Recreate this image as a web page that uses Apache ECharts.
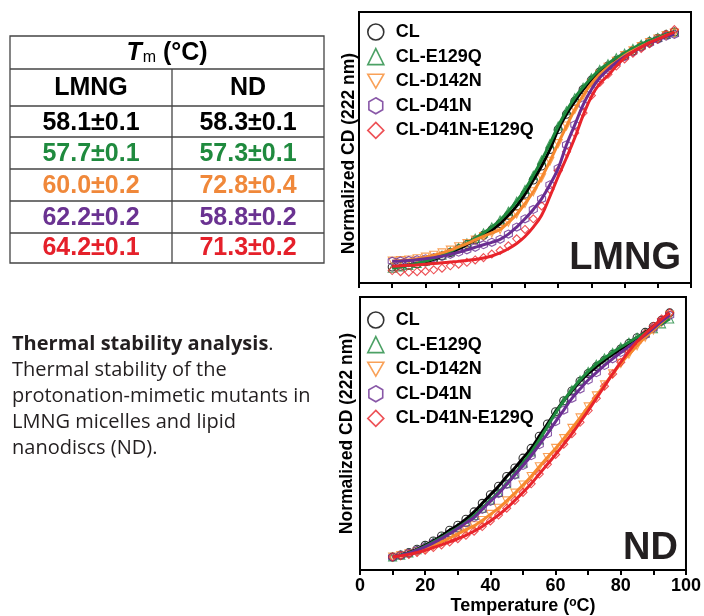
<!DOCTYPE html>
<html><head><meta charset="utf-8">
<script src="https://cdn.jsdelivr.net/npm/echarts@6/dist/echarts.min.js"></script>
<style>html,body{margin:0;padding:0;background:#fff}#c{width:704px;height:616px}</style>
</head><body><div id="c"></div>
<script>
// ---------- DATA ----------
const temps = [10,12.5,15,17.5,20,22.5,25,27.5,30,32.5,35,37.5,40,42.5,45,47.5,50,52.5,55,57.5,60,62.5,65,67.5,70,72.5,75,77.5,80,82.5,85,87.5,90,92.5,95];
const seriesNames = ['CL','CL-E129Q','CL-D142N','CL-D41N','CL-D41N-E129Q'];
const xTickValues = [0,20,40,60,80,100];

// LMNG micelles: normalized CD (222 nm)
const lmngCL     = [0.00,0.003,0.008,0.014,0.022,0.033,0.047,0.062,0.078,0.096,0.115,0.135,0.158,0.185,0.22,0.26,0.31,0.37,0.43,0.50,0.585,0.65,0.705,0.755,0.795,0.83,0.855,0.88,0.90,0.92,0.94,0.958,0.973,0.988,1.0];
const lmngE129Q  = [-0.005,0.0,0.007,0.015,0.025,0.036,0.05,0.066,0.083,0.102,0.122,0.145,0.17,0.2,0.237,0.28,0.33,0.39,0.455,0.525,0.6,0.665,0.72,0.765,0.805,0.84,0.865,0.89,0.91,0.93,0.948,0.963,0.977,0.99,1.0];
const lmngD142N  = [0.025,0.027,0.03,0.035,0.042,0.05,0.06,0.072,0.086,0.1,0.115,0.13,0.145,0.16,0.19,0.225,0.27,0.32,0.38,0.45,0.525,0.6,0.67,0.73,0.78,0.82,0.85,0.875,0.9,0.92,0.938,0.955,0.97,0.985,0.995];
const lmngD41N   = [0.025,0.026,0.028,0.031,0.035,0.04,0.046,0.054,0.063,0.073,0.084,0.095,0.105,0.118,0.14,0.17,0.205,0.245,0.29,0.35,0.42,0.52,0.605,0.69,0.755,0.805,0.84,0.87,0.895,0.915,0.935,0.952,0.968,0.982,0.99];
const lmngD41NE129QFit = [0.003,0.005,0.007,0.009,0.012,0.015,0.018,0.021,0.024,0.028,0.032,0.038,0.047,0.06,0.078,0.1,0.13,0.17,0.22,0.3,0.385,0.465,0.55,0.645,0.725,0.78,0.815,0.855,0.89,0.915,0.935,0.955,0.97,0.985,1.0];
const lmngD41NE129QPts = [-0.015,-0.02,-0.022,-0.02,-0.018,-0.012,-0.005,0.005,0.012,0.02,0.03,0.04,0.055,0.07,0.09,0.12,0.16,0.205,0.26,0.33,0.41,0.49,0.57,0.655,0.73,0.785,0.82,0.855,0.885,0.91,0.93,0.95,0.97,0.99,1.01];

// Lipid nanodiscs (ND)
const ndCL       = [0.0,0.008,0.018,0.032,0.048,0.066,0.086,0.11,0.13,0.155,0.185,0.22,0.255,0.29,0.33,0.365,0.405,0.445,0.495,0.545,0.595,0.64,0.68,0.72,0.752,0.78,0.806,0.83,0.852,0.875,0.898,0.92,0.944,0.97,1.0];
const ndE129Q    = [0.0,0.008,0.017,0.03,0.045,0.062,0.08,0.1,0.12,0.143,0.17,0.2,0.233,0.265,0.3,0.34,0.385,0.43,0.48,0.535,0.59,0.64,0.685,0.725,0.76,0.79,0.815,0.838,0.86,0.88,0.9,0.918,0.935,0.955,0.975];
const ndD142N    = [0.0,0.006,0.013,0.022,0.033,0.046,0.062,0.078,0.095,0.112,0.128,0.15,0.175,0.2,0.23,0.262,0.295,0.33,0.37,0.408,0.445,0.485,0.527,0.57,0.615,0.66,0.705,0.75,0.793,0.83,0.865,0.9,0.93,0.96,0.99];
const ndD41N     = [0.0,0.007,0.016,0.028,0.042,0.058,0.076,0.096,0.117,0.14,0.162,0.195,0.228,0.26,0.298,0.336,0.375,0.415,0.46,0.505,0.555,0.602,0.65,0.688,0.725,0.755,0.785,0.812,0.838,0.862,0.885,0.91,0.937,0.965,0.99];
const ndD41NE129Q = [0.0,0.005,0.011,0.019,0.028,0.039,0.05,0.062,0.075,0.089,0.106,0.125,0.148,0.172,0.2,0.232,0.265,0.3,0.34,0.38,0.42,0.462,0.505,0.552,0.6,0.65,0.7,0.75,0.798,0.843,0.882,0.915,0.945,0.975,1.0];

// Table of Tm values
const tableColumns = ['LMNG','ND'];
const tmLMNG = ['58.1±0.1','57.7±0.1','60.0±0.2','62.2±0.2','64.2±0.1'];
const tmND   = ['58.3±0.1','57.3±0.1','72.8±0.4','58.8±0.2','71.3±0.2'];

const captionBold = 'Thermal stability analysis';
const captionLines = ['Thermal stability of the','protonation-mimetic mutants in','LMNG micelles and lipid','nanodiscs (ND).'];
const panelLabels = ['LMNG','ND'];

// ---------- STYLE ----------
const colors = ['#000000','#1f8a3e','#f7892e','#6a2d91','#e8242b'];
const tableColors = ['#000000','#1f8a3e','#f0883a','#6a3291','#e5202a'];
const symbols = [
  'circle',
  'triangle',
  'path://M0,0 L10,0 L5,8.66 Z',
  'path://M5,0 L9.33,2.5 L9.33,7.5 L5,10 L0.67,7.5 L0.67,2.5 Z',
  'diamond'
];
const FONT = '"Liberation Sans", Arial, sans-serif';
const CAPFONT = '"Open Sans", "Noto Sans", sans-serif';

const pts = (ys) => temps.map((t, i) => [t, ys[i]]);
const panels = [
  { pts: [lmngCL, lmngE129Q, lmngD142N, lmngD41N, lmngD41NE129QPts],
    fit: [lmngCL, lmngE129Q, lmngD142N, lmngD41N, lmngD41NE129QFit] },
  { pts: [ndCL, ndE129Q, ndD142N, ndD41N, ndD41NE129Q],
    fit: [ndCL, ndE129Q, ndD142N, ndD41N, ndD41NE129Q] }
];

const series = [];
panels.forEach((p, pi) => {
  p.pts.forEach((arr, si) => {
    series.push({
      name: seriesNames[si], type: 'scatter', xAxisIndex: pi, yAxisIndex: pi,
      data: pts(arr), symbol: symbols[si], symbolSize: 8,
      itemStyle: { color: 'rgba(0,0,0,0)', borderColor: colors[si], borderWidth: 1.1 },
      z: 2, silent: true
    });
  });
  p.fit.forEach((arr, si) => {
    series.push({
      name: seriesNames[si] + ' fit', type: 'line', xAxisIndex: pi, yAxisIndex: pi,
      data: pts(arr), smooth: 0.4, showSymbol: false,
      lineStyle: { color: colors[si], width: 3 }, z: 3, silent: true
    });
  });
});

const legendData = seriesNames.map((n, i) => ({
  name: n, icon: symbols[i],
  itemStyle: { color: 'rgba(0,0,0,0)', borderColor: colors[i], borderWidth: 1.6 }
}));
const mkLegend = (top) => ({
  orient: 'vertical', left: 362, top: top, data: legendData,
  itemWidth: 16, itemHeight: 16, itemGap: 6.6, selectedMode: false,
  textStyle: { fontFamily: FONT, fontWeight: 'bold', fontSize: 18, color: '#000', lineHeight: 18, padding: [0, 0, 0, 7] }
});

const axisCommonX = (gi, showLabels) => ({
  type: 'value', gridIndex: gi, min: 0, max: 100, interval: 10,
  axisLine: { show: true, onZero: false, lineStyle: { color: '#000', width: 2 } },
  axisTick: { show: true, inside: false, length: 5, lineStyle: { color: '#000', width: 2 } },
  splitLine: { show: false },
  axisLabel: {
    show: showLabels, margin: 7, color: '#000', fontFamily: FONT, fontWeight: 'bold', fontSize: 18,
    formatter: (v) => xTickValues.indexOf(v) >= 0 ? String(v) : ''
  }
});
const axisCommonY = (gi, min, max, gap, pad) => ({
  type: 'value', gridIndex: gi, min: min, max: max,
  axisLine: { show: true, onZero: false, lineStyle: { color: '#000', width: 2 } },
  axisTick: { show: false }, axisLabel: { show: false }, splitLine: { show: false },
  name: 'Normalized CD (222 nm)', nameLocation: 'middle', nameGap: gap,
  nameTextStyle: { fontFamily: FONT, fontWeight: 'bold', fontSize: 17.5, color: '#000', padding: pad }
});

// ---------- TABLE + TEXT (graphic) ----------
const g = [];
const tL = 10, tR = 324, tT = 36, tB = 263, tMid = 172;
const hLines = [69, 106, 137, 169, 201, 233];
g.push({ type: 'rect', shape: { x: tL, y: tT, width: tR - tL, height: tB - tT },
  style: { fill: 'none', stroke: '#444', lineWidth: 1.3 } });
hLines.forEach(y => g.push({ type: 'line', shape: { x1: tL, y1: y, x2: tR, y2: y },
  style: { stroke: '#444', lineWidth: 1.3 } }));
g.push({ type: 'line', shape: { x1: tMid, y1: 69, x2: tMid, y2: tB },
  style: { stroke: '#444', lineWidth: 1.3 } });
g.push({ type: 'text', x: (tL + tR) / 2, y: 53,
  style: { text: '{t|T}{m|m}{n| (°C)}', textAlign: 'center', textVerticalAlign: 'middle',
    rich: {
      t: { fontFamily: FONT, fontWeight: 'bold', fontStyle: 'italic', fontSize: 25, fill: '#000' },
      m: { fontFamily: FONT, fontSize: 16, fill: '#000', verticalAlign: 'bottom', padding: [9, 0, 0, 1] },
      n: { fontFamily: FONT, fontWeight: 'bold', fontSize: 25, fill: '#000' }
    } } });
const colCenters = [(tL + tMid) / 2, (tMid + tR) / 2];
tableColumns.forEach((c, i) => g.push({ type: 'text', x: colCenters[i], y: 88,
  style: { text: c, textAlign: 'center', textVerticalAlign: 'middle', fontFamily: FONT,
    fontWeight: 'bold', fontSize: 25, fill: '#000' } }));
const rowCenters = [123, 154, 186, 218, 248.5];
[tmLMNG, tmND].forEach((col, ci) => col.forEach((txt, ri) => g.push({ type: 'text',
  x: colCenters[ci], y: rowCenters[ri],
  style: { text: txt, textAlign: 'center', textVerticalAlign: 'middle', fontFamily: FONT,
    fontWeight: 'bold', fontSize: 25, fill: tableColors[ri] } })));
// caption
g.push({ type: 'text', x: 12, y: 331,
  style: { text: '{b|' + captionBold + '}{r|.}\n' + captionLines.map(l => '{r|' + l + '}').join('\n'),
    textAlign: 'left', textVerticalAlign: 'top',
    rich: {
      b: { fontFamily: CAPFONT, fontWeight: 'bold', fontSize: 20, fill: '#231f20', lineHeight: 26 },
      r: { fontFamily: CAPFONT, fontSize: 20, fill: '#231f20', lineHeight: 26 }
    } } });
// panel labels
g.push({ type: 'text', x: 681, y: 259, z: 10,
  style: { text: panelLabels[0], textAlign: 'right', textVerticalAlign: 'middle', fontFamily: FONT,
    fontWeight: 'bold', fontSize: 38, fill: '#231f20' } });
g.push({ type: 'text', x: 678, y: 549, z: 10,
  style: { text: panelLabels[1], textAlign: 'right', textVerticalAlign: 'middle', fontFamily: FONT,
    fontWeight: 'bold', fontSize: 38, fill: '#231f20' } });

const option = {
  animation: false,
  backgroundColor: '#fff',
  grid: [
    { left: 359, top: 12, width: 332, height: 271, show: true, borderColor: '#000', borderWidth: 2, containLabel: false },
    { left: 360, top: 297, width: 330, height: 276, show: true, borderColor: '#000', borderWidth: 2, containLabel: false }
  ],
  xAxis: [
    axisCommonX(0, false),
    Object.assign(axisCommonX(1, true), {
      name: 'Temperature ({s|o}C)', nameLocation: 'middle', nameGap: 27,
      nameTextStyle: { fontFamily: FONT, fontWeight: 'bold', fontSize: 18, color: '#000',
        rich: { s: { fontFamily: FONT, fontWeight: 'bold', fontSize: 12, color: '#000', verticalAlign: 'top', lineHeight: 13 } } }
    })
  ],
  yAxis: [ axisCommonY(0, -0.068, 1.085, 1, [0, 12, 0, 0]), axisCommonY(1, -0.053, 1.065, 4, [0, 0, 0, 0]) ],
  legend: [ mkLegend(18), mkLegend(306) ],
  series: series,
  graphic: { elements: g }
};
const chart = echarts.init(document.getElementById('c'), null, { renderer: 'canvas' });
chart.setOption(option);
</script></body></html>
